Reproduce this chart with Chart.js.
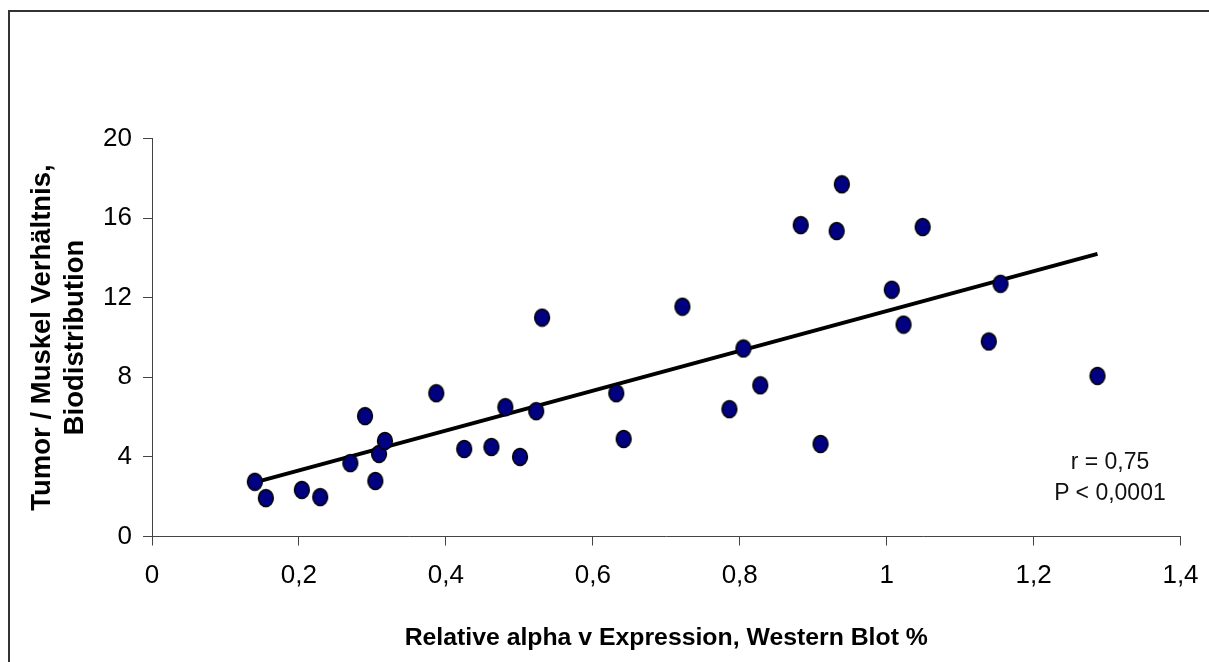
<!DOCTYPE html>
<html>
<head>
<meta charset="utf-8">
<script src="https://cdn.jsdelivr.net/npm/chart.js@4/dist/chart.umd.min.js"></script>
<style>
  html,body{margin:0;padding:0;background:#fff;}
  #wrap{position:relative;width:1209px;height:662px;overflow:hidden;}
  #frame{position:absolute;left:8px;top:10px;width:1220px;height:680px;border-left:2px solid #333;border-top:2px solid #333;box-sizing:border-box;pointer-events:none;}
  #stats{position:absolute;left:1030px;top:446px;width:160px;text-align:center;font:23px "Liberation Sans",Arial,sans-serif;line-height:31px;color:#111;}
</style>
</head>
<body>
<div id="wrap">
  <canvas id="c" width="1209" height="662"></canvas>
  <div id="frame"></div>
  <div id="stats">r = 0,75<br>P &lt; 0,0001</div>
</div>
<script>
// values
const alphaV = [0.140,0.155,0.204,0.229,0.270,0.290,0.304,0.309,0.317,0.387,0.425,0.462,0.481,0.501,0.523,0.531,0.632,0.642,0.722,0.786,0.805,0.828,0.883,0.910,0.932,0.939,1.007,1.023,1.049,1.139,1.155,1.287];
const ratio  = [2.75,1.93,2.34,1.98,3.69,6.05,2.79,4.15,4.80,7.20,4.40,4.50,6.50,4.00,6.30,11.00,7.20,4.90,11.55,6.40,9.45,7.60,15.65,4.65,15.35,17.70,12.40,10.65,15.55,9.80,12.70,8.07];
const trendX = [0.140,1.287];
const trendY = [2.72,14.20];
const xTicks = ["0","0,2","0,4","0,6","0,8","1","1,2","1,4"];
const yTicks = ["0","4","8","12","16","20"];

const font = '"Liberation Sans", Arial, sans-serif';

// slightly tall oval marker like the original
const dot = document.createElement("canvas");
dot.width = 18; dot.height = 20;
(()=>{
  const g = dot.getContext("2d");
  g.beginPath(); g.ellipse(9,10,7.4,8.4,0,0,Math.PI*2);
  g.fillStyle = "#000080"; g.fill();
  g.lineWidth = 1.5; g.strokeStyle = "#000"; g.stroke();
})();

const axisCol = "#444";

new Chart(document.getElementById("c"), {
  type: "scatter",
  data: {
    datasets: [
      {label:"Messwerte", data: alphaV.map((x,i)=>({x, y: ratio[i]})), pointStyle: dot, pointRadius: 9, pointHoverRadius: 9},
      {label:"Trend", type:"line", data: trendX.map((x,i)=>({x, y: trendY[i]})), showLine:true, borderColor:"#000", borderWidth:4, pointRadius:0, fill:false}
    ]
  },
  options: {
    responsive:false, animation:false,
    layout:{padding:{left:0, top:138.5, right:28.5, bottom:0}},
    plugins:{legend:{display:false}, tooltip:{enabled:false}},
    scales:{
      x:{
        type:"linear", min:0, max:1.4,
        afterFit:s=>{ s.height = 125.5; s.paddingLeft = 0; s.paddingRight = 0; },
        border:{display:true, color:axisCol, width:1},
        grid:{drawOnChartArea:false, drawTicks:true, tickLength:9, color:axisCol},
        ticks:{stepSize:0.2, padding:15, color:"#000", font:{family:font, size:26},
          callback:(v,i)=>xTicks[i]},
        title:{display:true, text:"Relative alpha v Expression, Western Blot %", color:"#000",
          font:{family:font, size:24.8, weight:"bold", lineHeight:1.2}, padding:{top:0, bottom:9.2}}
      },
      y:{
        min:0, max:20,
        afterFit:s=>{ s.width = 152; },
        border:{display:true, color:axisCol, width:1},
        grid:{drawOnChartArea:false, drawTicks:true, tickLength:9, color:axisCol},
        ticks:{stepSize:4, padding:11, color:"#000", font:{family:font, size:26},
          callback:(v,i)=>yTicks[i]},
        title:{display:true, text:["Tumor / Muskel Verhältnis,","Biodistribution"], color:"#000",
          font:{family:font, size:27.5, weight:"bold", lineHeight:33/27.5}, padding:{top:25.5, bottom:0}}
      }
    }
  }
});
</script>
</body>
</html>
